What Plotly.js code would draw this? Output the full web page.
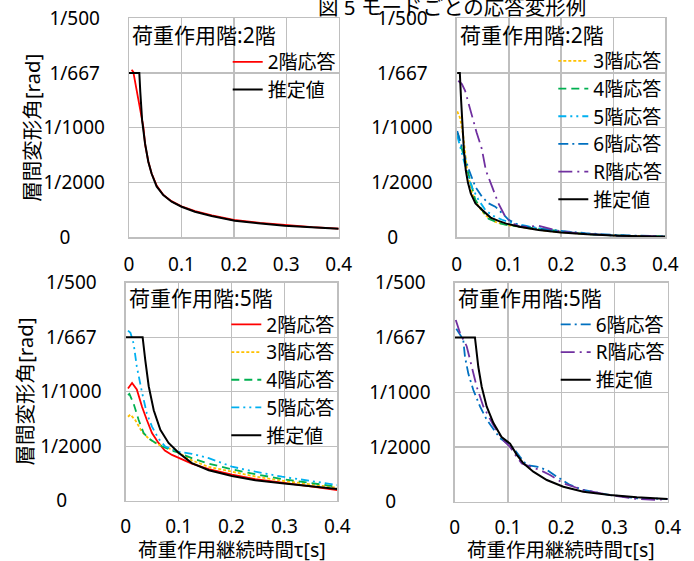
<!DOCTYPE html>
<html>
<head>
<meta charset="utf-8">
<script src="https://cdn.plot.ly/plotly-3.0.1.min.js"></script>
<style>html,body{margin:0;padding:0;background:#fff;}#chart{width:694px;height:561px;}</style>
</head>
<body>
<div id="chart"></div>
<script>
// ---------- data (tau [s], story drift angle [rad]) ----------
// Panel A: load applied at 2F
const a_est_t = [0, 0.0197, 0.0215, 0.025, 0.0305, 0.0368, 0.0432, 0.0527, 0.0654, 0.0813, 0.1003, 0.1257, 0.1575, 0.2019, 0.2463, 0.2971, 0.348, 0.4];
const a_est_v = [0.0015, 0.0015, 0.00133, 0.00107, 0.00086, 0.00069, 0.00058, 0.000465, 0.000386, 0.000325, 0.000279, 0.000234, 0.000195, 0.000152, 0.000128, 0.000106, 0.000091, 0.000078];
const a_f2_t = [0.005, 0.0082, 0.0178, 0.0273, 0.031, 0.037, 0.043, 0.053, 0.065, 0.081, 0.1, 0.126, 0.158, 0.2, 0.25, 0.3, 0.35, 0.4];
const a_f2_v = [0.00153, 0.00151, 0.00126, 0.00101, 0.00084, 0.00069, 0.000585, 0.00047, 0.00039, 0.00033, 0.000283, 0.00024, 0.0002, 0.000158, 0.000132, 0.00011, 0.000093, 0.00008];

// Panel B: load applied at 2F, upper floors
const b_est_t = [0.001, 0.006, 0.0085, 0.011, 0.014, 0.0175, 0.0215, 0.027, 0.036, 0.049, 0.065, 0.08, 0.095, 0.12, 0.157, 0.2, 0.25, 0.31, 0.4];
const b_est_v = [0.0015, 0.0015, 0.00125, 0.00098, 0.00078, 0.00061, 0.0005, 0.0004, 0.00031, 0.00025, 0.00018, 0.00015, 0.000125, 0.000097, 0.000067, 0.000043, 0.000027, 0.000015, 0.000005];
const b_f3_t = [0.001, 0.0064, 0.0096, 0.0127, 0.0198, 0.029, 0.042, 0.055, 0.074, 0.1, 0.138, 0.183, 0.247, 0.31, 0.4];
const b_f3_v = [0.00115, 0.00109, 0.00101, 0.00092, 0.00062, 0.00041, 0.00028, 0.0002, 0.00014, 0.00011, 0.000082, 0.000052, 0.00003, 0.000016, 0.000008];
const b_f4_t = [0.002, 0.0101, 0.0198, 0.029, 0.0358, 0.0486, 0.061, 0.0805, 0.0997, 0.119, 0.151, 0.183, 0.247, 0.311, 0.4];
const b_f4_v = [0.00095, 0.0008, 0.00062, 0.00046, 0.00034, 0.00025, 0.00017, 0.00013, 0.00011, 0.0001, 0.000082, 0.00006, 0.00003, 0.000015, 0.000008];
const b_f5_t = [0.001, 0.0101, 0.0198, 0.029, 0.042, 0.055, 0.068, 0.087, 0.106, 0.138, 0.17, 0.202, 0.247, 0.311, 0.4];
const b_f5_v = [0.00093, 0.00077, 0.00059, 0.00046, 0.00034, 0.00025, 0.0002, 0.00016, 0.00013, 0.0001, 0.000073, 0.000051, 0.00003, 0.000015, 0.000008];
const b_f6_t = [0.001, 0.01, 0.023, 0.036, 0.0486, 0.061, 0.074, 0.087, 0.0995, 0.119, 0.151, 0.183, 0.247, 0.311, 0.4];
const b_f6_v = [0.00097, 0.00083, 0.00062, 0.00046, 0.00037, 0.00031, 0.00028, 0.00022, 0.00016, 0.00011, 0.000082, 0.000067, 0.000037, 0.00002, 0.000008];
const b_fR_t = [0.003, 0.01, 0.016, 0.0225, 0.029, 0.038, 0.048, 0.056, 0.068, 0.08, 0.093, 0.106, 0.12, 0.138, 0.157, 0.176, 0.2, 0.25, 0.31, 0.4];
const b_fR_v = [0.00143, 0.0014, 0.00134, 0.00122, 0.00111, 0.00096, 0.00081, 0.00061, 0.00046, 0.00031, 0.00019, 0.00013, 0.0001, 0.000097, 0.000106, 0.000082, 0.000052, 0.00003, 0.000015, 0.000008];

// Panel C: load applied at 5F, lower floors
const c_est_t = [0, 0.032, 0.037, 0.0435, 0.053, 0.0655, 0.081, 0.1, 0.125, 0.157, 0.201, 0.245, 0.2955, 0.346, 0.4];
const c_est_v = [0.0015, 0.0015, 0.00129, 0.00105, 0.00083, 0.00065, 0.00053, 0.00044, 0.000345, 0.00028, 0.000227, 0.000188, 0.00016, 0.000132, 0.000107];
const c_f2_t = [0.0043, 0.012, 0.021, 0.031, 0.04, 0.0497, 0.062, 0.074, 0.0875, 0.1, 0.113, 0.125, 0.157, 0.201, 0.245, 0.2955, 0.346, 0.4];
const c_f2_v = [0.00103, 0.00108, 0.00102, 0.00086, 0.00074, 0.00062, 0.00053, 0.00046, 0.00042, 0.000395, 0.000365, 0.00034, 0.00029, 0.00024, 0.000198, 0.000168, 0.000133, 0.000098];
const c_f3_t = [0.0043, 0.009, 0.018, 0.031, 0.0435, 0.056, 0.0686, 0.0875, 0.1, 0.125, 0.157, 0.201, 0.245, 0.2955, 0.346, 0.4];
const c_f3_v = [0.00077, 0.00079, 0.00074, 0.00063, 0.00057, 0.00053, 0.0005, 0.00047, 0.00044, 0.00037, 0.00031, 0.000266, 0.000222, 0.000183, 0.00015, 0.000119];
const c_f4_t = [0.0043, 0.007, 0.015, 0.0245, 0.034, 0.0435, 0.053, 0.0686, 0.0875, 0.1, 0.125, 0.157, 0.201, 0.245, 0.2955, 0.346, 0.4];
const c_f4_v = [0.00097, 0.00098, 0.00089, 0.00074, 0.00062, 0.00057, 0.00054, 0.0005, 0.00046, 0.00044, 0.00039, 0.00034, 0.000288, 0.000243, 0.000199, 0.000162, 0.000128];
const c_f5_t = [0.0043, 0.009, 0.015, 0.021, 0.031, 0.04, 0.0497, 0.062, 0.074, 0.0875, 0.1, 0.125, 0.157, 0.201, 0.245, 0.2955, 0.346, 0.4];
const c_f5_v = [0.00156, 0.00154, 0.00144, 0.00123, 0.00099, 0.0008, 0.00068, 0.00057, 0.0005, 0.00047, 0.00045, 0.00043, 0.00039, 0.000312, 0.000266, 0.00022, 0.000184, 0.000144];

// Panel D: load applied at 5F, upper floors
const d_est_t = [0, 0.038, 0.0444, 0.0507, 0.06, 0.0725, 0.088, 0.104, 0.1164, 0.129, 0.1476, 0.173, 0.204, 0.2415, 0.2917, 0.342, 0.4];
const d_est_v = [0.0015, 0.0015, 0.00123, 0.00105, 0.00087, 0.00072, 0.00059, 0.00053, 0.00043, 0.00035, 0.000274, 0.000198, 0.000137, 0.000091, 0.000061, 0.00004, 0.000025];
const d_f6_t = [0.003, 0.01, 0.016, 0.0194, 0.0256, 0.035, 0.0475, 0.06, 0.0725, 0.085, 0.1, 0.11, 0.1226, 0.135, 0.154, 0.173, 0.1915, 0.2165, 0.2415, 0.2917, 0.342, 0.4];
const d_f6_v = [0.00158, 0.00152, 0.00148, 0.00132, 0.00117, 0.00102, 0.00087, 0.00075, 0.00066, 0.00058, 0.00053, 0.00049, 0.00041, 0.000335, 0.00032, 0.00029, 0.00023, 0.000153, 0.000107, 0.000061, 0.000031, 0.000025];
const d_fR_t = [0.002, 0.01, 0.0225, 0.032, 0.0413, 0.0537, 0.0725, 0.0913, 0.104, 0.1164, 0.126, 0.1414, 0.16, 0.179, 0.204, 0.2415, 0.2917, 0.342, 0.379, 0.4];
const d_fR_v = [0.00166, 0.00154, 0.00142, 0.00123, 0.00105, 0.00087, 0.0007, 0.00056, 0.0005, 0.00041, 0.00035, 0.00032, 0.00029, 0.000244, 0.000168, 0.000107, 0.000061, 0.000025, 0.000016, 0.000025];

// ---------- labels ----------
const xTickVals = [0, 0.1, 0.2, 0.3, 0.4];
const xTickText = ['0', '0.1', '0.2', '0.3', '0.4'];
const yTickVals = [0, 0.0005, 0.001, 0.0015, 0.002];
const NB = '\u00a0';
const yTickText = ['0' + NB.repeat(7), '1/2000', '1/1000', '1/667' + NB, '1/500' + NB];
const panelLabels = ['荷重作用階:2階', '荷重作用階:2階', '荷重作用階:5階', '荷重作用階:5階'];
const nameF2 = '2階応答', nameF3 = '3階応答', nameF4 = '4階応答', nameF5 = '5階応答', nameF6 = '6階応答', nameFR = 'R階応答', nameEst = '推定値';
const xTitle = '荷重作用継続時間τ[s]';
const yTitle = '層間変形角[rad]';
const figTitle = '図 5 モードごとの応答変形例';

// ---------- styles ----------
const W = 694, H = 561;
const FONT = 'Noto Sans, "Noto Sans CJK JP", sans-serif';
const C = {f2: '#FF0000', f3: '#FFC000', f4: '#00B050', f5: '#00B0F0', f6: '#0070C0', fR: '#7030A0', est: '#000000'};
const D = {f2: 'solid', f3: '3px,2px', f4: '8px,5px', f5: '8px,4px,2px,4px,2px,4px', f6: '10px,4px,2px,4px', fR: '14px,5px,2px,5px', est: 'solid'};
const LW = {col: 1.8, est: 2};

function tr(t, v, name, key, ax, leg) {
  return {
    type: 'scatter', mode: 'lines', x: t, y: v, name: name,
    xaxis: 'x' + ax, yaxis: 'y' + ax, legend: leg,
    line: {color: C[key], dash: D[key], width: key === 'est' ? LW.est : LW.col},
    hoverinfo: 'skip'
  };
}

const data = [
  tr(a_f2_t, a_f2_v, nameF2, 'f2', '', 'legend'),
  tr(a_est_t, a_est_v, nameEst, 'est', '', 'legend'),

  tr(b_f3_t, b_f3_v, nameF3, 'f3', '2', 'legend2'),
  tr(b_f4_t, b_f4_v, nameF4, 'f4', '2', 'legend2'),
  tr(b_f5_t, b_f5_v, nameF5, 'f5', '2', 'legend2'),
  tr(b_f6_t, b_f6_v, nameF6, 'f6', '2', 'legend2'),
  tr(b_fR_t, b_fR_v, nameFR, 'fR', '2', 'legend2'),
  tr(b_est_t, b_est_v, nameEst, 'est', '2', 'legend2'),

  tr(c_f2_t, c_f2_v, nameF2, 'f2', '3', 'legend3'),
  tr(c_f3_t, c_f3_v, nameF3, 'f3', '3', 'legend3'),
  tr(c_f4_t, c_f4_v, nameF4, 'f4', '3', 'legend3'),
  tr(c_f5_t, c_f5_v, nameF5, 'f5', '3', 'legend3'),
  tr(c_est_t, c_est_v, nameEst, 'est', '3', 'legend3'),

  tr(d_f6_t, d_f6_v, nameF6, 'f6', '4', 'legend4'),
  tr(d_fR_t, d_fR_v, nameFR, 'fR', '4', 'legend4'),
  tr(d_est_t, d_est_v, nameEst, 'est', '4', 'legend4')
];

// panel boxes in pixels [x0, x1, y0(top), y1(bottom)]
const boxes = [
  [129, 338.7, 18.3, 237.3],
  [456.7, 665.3, 18.3, 237.3],
  [125.7, 337.3, 282.7, 500.7],
  [454.7, 667.7, 282.7, 501.7]
];
const legendRowTop = [43, 42, 305.5, 305.5];
const labelY = [35, 35, 298.3, 298.3];
const xLabelGap = [10, 10, 8, 8];

const layout = {
  width: W, height: H, autosize: false,
  margin: {l: 0, r: 0, t: 0, b: 0, pad: 0},
  paper_bgcolor: '#ffffff', plot_bgcolor: '#ffffff',
  font: {family: FONT, size: 19, color: '#000000'},
  showlegend: true,
  annotations: []
};

boxes.forEach((b, i) => {
  const s = i === 0 ? '' : String(i + 1);
  layout['xaxis' + s] = {
    domain: [b[0] / W, b[1] / W], anchor: 'y' + s,
    range: [0, 0.4], tickmode: 'array', tickvals: xTickVals, ticktext: xTickText,
    showgrid: true, gridcolor: '#BFBFBF', gridwidth: 1.3,
    showline: true, mirror: true, linecolor: '#BFBFBF', linewidth: 1.3,
    zeroline: false, ticks: '', ticklabelstandoff: xLabelGap[i],
    tickfont: {family: FONT, size: 19, color: '#000'}, fixedrange: true
  };
  layout['yaxis' + s] = {
    domain: [1 - b[3] / H, 1 - b[2] / H], anchor: 'x' + s,
    range: [0, 0.002], tickmode: 'array', tickvals: yTickVals, ticktext: yTickText,
    showgrid: true, gridcolor: '#BFBFBF', gridwidth: 1.3,
    showline: true, mirror: true, linecolor: '#BFBFBF', linewidth: 1.3,
    zeroline: false, ticks: '', ticklabelstandoff: 19,
    tickfont: {family: FONT, size: 19, color: '#000'}, fixedrange: true
  };
  const lk = i === 0 ? 'legend' : 'legend' + (i + 1);
  layout[lk] = {
    x: (b[1] + 2) / W, xanchor: 'right', y: 1 - legendRowTop[i] / H, yanchor: 'top',
    bgcolor: 'rgba(0,0,0,0)', borderwidth: 0, font: {family: FONT, size: 19, color: '#000'},
    itemwidth: 30, tracegroupgap: 0, traceorder: 'normal'
  };
  layout.annotations.push({
    text: panelLabels[i], xref: 'paper', yref: 'paper',
    x: (b[0] + 1) / W, xanchor: 'left', y: 1 - labelY[i] / H, yanchor: 'middle',
    showarrow: false, font: {family: FONT, size: 21, color: '#000'}
  });
});

// axis titles and figure caption
layout.annotations.push(
  {text: yTitle, xref: 'paper', yref: 'paper', x: 31.7 / W, y: 1 - 128 / H, xanchor: 'center', yanchor: 'middle', textangle: -90, showarrow: false, font: {family: FONT, size: 20.5, color: '#000'}},
  {text: yTitle, xref: 'paper', yref: 'paper', x: 24.5 / W, y: 1 - 392 / H, xanchor: 'center', yanchor: 'middle', textangle: -90, showarrow: false, font: {family: FONT, size: 20.5, color: '#000'}},
  {text: xTitle, xref: 'paper', yref: 'paper', x: 231.5 / W, y: 1 - 549 / H, xanchor: 'center', yanchor: 'middle', showarrow: false, font: {family: FONT, size: 19.5, color: '#000'}},
  {text: xTitle, xref: 'paper', yref: 'paper', x: 561 / W, y: 1 - 549 / H, xanchor: 'center', yanchor: 'middle', showarrow: false, font: {family: FONT, size: 19.5, color: '#000'}},
  {text: figTitle, xref: 'paper', yref: 'paper', x: 452 / W, y: 1 - 7 / H, xanchor: 'center', yanchor: 'middle', showarrow: false, font: {family: FONT, size: 20.5, color: '#000'}}
);

Plotly.newPlot('chart', data, layout, {staticPlot: true, displayModeBar: false});
</script>
</body>
</html>
